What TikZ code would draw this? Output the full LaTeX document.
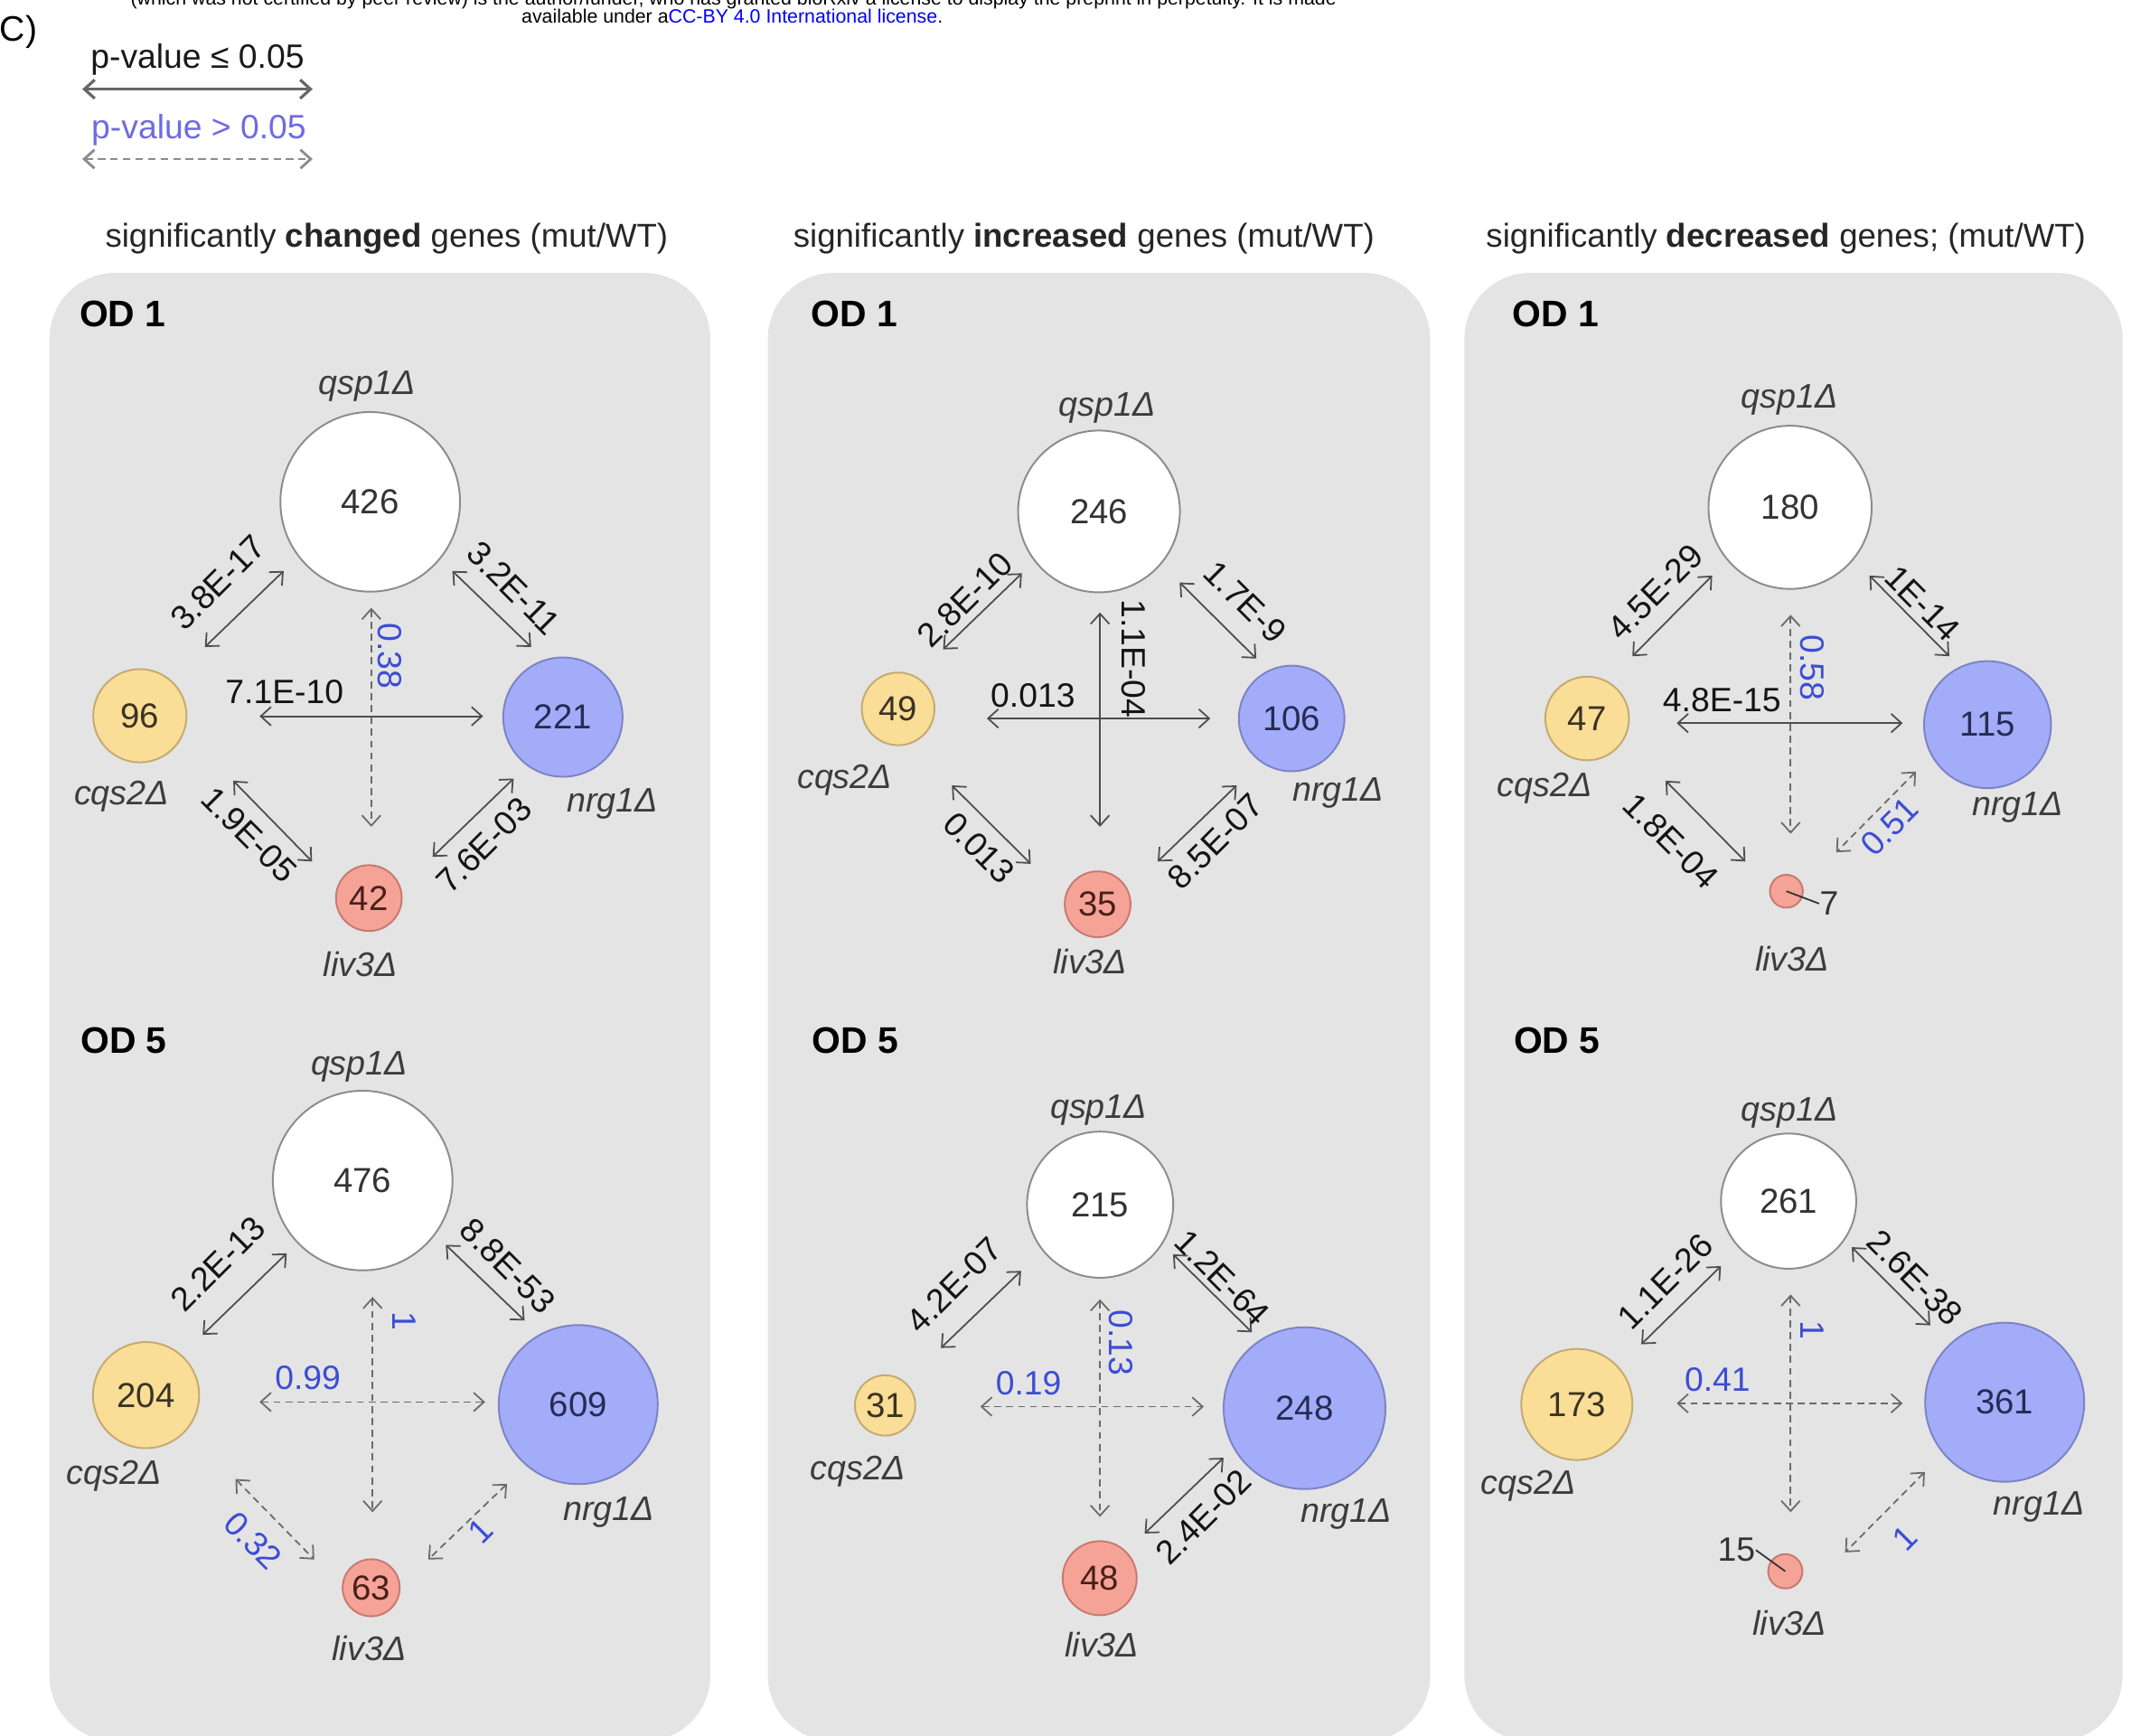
\documentclass[tikz,border=0pt]{standalone}
\usepackage{fontspec}
\setmainfont{Liberation Sans}
\usetikzlibrary{arrows.meta}
\definecolor{panelc}{HTML}{E4E4E4}
\definecolor{qspline}{HTML}{8C8C8C}
\definecolor{cqsfill}{HTML}{FADD97}
\definecolor{cqsline}{HTML}{C4AA70}
\definecolor{nrgfill}{HTML}{A3ACF8}
\definecolor{nrgline}{HTML}{7C83C6}
\definecolor{livfill}{HTML}{F6A397}
\definecolor{livline}{HTML}{C77A70}
\definecolor{arrc}{HTML}{4D4D4D}
\definecolor{dashc}{HTML}{6A6A6A}
\definecolor{bluelab}{HTML}{3C4DD4}
\definecolor{legblue}{HTML}{6F6BE0}
\definecolor{gtext}{HTML}{3C3C3C}
\definecolor{linkblue}{HTML}{0000FF}
\definecolor{numq}{HTML}{333333}
\definecolor{numc}{HTML}{3B3322}
\definecolor{numn}{HTML}{262B55}
\definecolor{numl}{HTML}{4A1F1A}
\newcommand\mytit{\fontsize{10.3}{12}\selectfont}
\newcommand\mynum{\fontsize{10.8}{12}\selectfont}
\newcommand\mylabf{\fontsize{10.5}{12}\selectfont}
\newcommand\mynamef{\fontsize{10.6}{12}\selectfont\itshape}
\newcommand\myodf{\fontsize{11.5}{13}\selectfont\bfseries}
\newcommand\myhdrf{\fontsize{6}{7}\selectfont}
\newcommand\myarr[4]{\coordinate (#2s) at (#3); \coordinate (#2e) at (#4); \draw[#1] (#2s) -- (#2e);}
\begin{document}
\begin{tikzpicture}[x=0.015cm,y=-0.015cm,
  >={Straight Barb[length=3.2pt,width=5.8pt]},
  sig/.style={<->, draw=arrc, line width=0.5pt},
  nsig/.style={<->, draw=dashc, line width=0.5pt, dash pattern=on 2.2pt off 1.5pt},
  numcirc/.style={circle, inner sep=0pt, line width=0.55pt, font=\mynum, minimum size=#1*0.03cm},
  qsp/.style={numcirc=#1, fill=white, draw=qspline, text=numq},
  cqs/.style={numcirc=#1, fill=cqsfill, draw=cqsline, text=numc},
  nrg/.style={numcirc=#1, fill=nrgfill, draw=nrgline, text=numn},
  liv/.style={numcirc=#1, fill=livfill, draw=livline, text=numl},
  lab/.style={font=\mylabf, text=black!92, inner sep=0pt},
  blab/.style={font=\mylabf, text=bluelab, inner sep=0pt},
  gname/.style={font=\mynamef, text=gtext, inner sep=0pt, yshift=-0.03cm},
  odl/.style={font=\myodf, text=black, inner sep=0pt},
  titl/.style={font=\mytit, text=black!85, inner sep=0pt, yshift=-0.045cm},
  panel/.style={fill=panelc, rounded corners=0.72cm},
  lead/.style={draw=black!80, line width=0.5pt}
]
\useasboundingbox (0,0) rectangle (1568,1266);

% header
\node[font=\myhdrf, inner sep=0pt, anchor=base] (hdr1) at (535,3.5) {(which was not certified by peer review) is the author/funder, who has granted bioRxiv a license to display the preprint in perpetuity. It is made};
\node[font=\myhdrf, inner sep=0pt, anchor=base] (hdr2) at (534,16.5) {available under a\textcolor{linkblue}{CC-BY 4.0 International license}.};
\node[font=\fontsize{11}{12}\selectfont, inner sep=0pt, anchor=west] (lblC) at (-0.5,23.5) {C)};

% legend
\node[font=\mylabf, text=black!90, inner sep=0pt] (leg1) at (144,43.5) {p-value ≤ 0.05};
\coordinate (leg1a) at (60,65); \coordinate (leg1b) at (228,65);
\draw[<->, draw=black!60, line width=0.9pt] (leg1a) -- (leg1b);
\node[font=\mylabf, text=legblue, inner sep=0pt] (leg2) at (145,95) {p-value > 0.05};
\coordinate (leg2a) at (60,116); \coordinate (leg2b) at (228,116);
\draw[<->, draw=black!45, line width=0.8pt, dash pattern=on 2.3pt off 1.6pt] (leg2a) -- (leg2b);

% titles
\node[titl] (tit1) at (282,171) {significantly \textbf{changed} genes (mut/WT)};
\node[titl] (tit2) at (790.5,171) {significantly \textbf{increased} genes (mut/WT)};
\node[titl] (tit3) at (1302.5,171) {significantly \textbf{decreased} genes; (mut/WT)};

% panels
\fill[panel] (36,199) rectangle (518,1270);
\fill[panel] (560,199) rectangle (1043,1270);
\fill[panel] (1068,199) rectangle (1548,1270);

% ===== Panel A: changed OD1
\node[odl] (Aod) at (89.5,229) {OD 1};
\node[qsp=65.5] (Aq) at (270,366) {426};
\node[cqs=34] (Ac) at (102,522) {96};
\node[nrg=43.5] (An) at (410.5,523) {221};
\node[liv=24] (Al) at (269,655) {42};
\node[gname] (Aqn) at (267.5,280) {qsp1Δ};
\node[gname] (Acn) at (88.7,579) {cqs2Δ};
\node[gname] (Ann) at (446.5,584) {nrg1Δ};
\node[gname] (Aln) at (262.7,701) {liv3Δ};
\myarr{sig}{Acq}{149.4,471.9}{206.9,416.4}
\myarr{sig}{Aqn}{329.9,416.4}{387.4,471.9}
\myarr{sig}{Acn}{189.3,522.4}{352.3,522.4}
\myarr{nsig}{Aql}{270.8,443.3}{270.8,603}
\myarr{sig}{Acl}{170.1,569.4}{227.6,628.3}
\myarr{sig}{Anl}{374.6,567.8}{315.5,624.9}
\node[lab, rotate=45] (AcqL) at (159,424.8) {3.8E-17};
\node[lab, rotate=-45] (AqnL) at (374.6,428.9) {3.2E-11};
\node[lab] (AcnL) at (207.5,504.5) {7.1E-10};
\node[blab, rotate=-90] (AqlL) at (284.2,478.6) {0.38};
\node[lab, rotate=-45] (AclL) at (182,608.8) {1.9E-05};
\node[lab, rotate=45] (AnlL) at (352.9,616.5) {7.6E-03};

% ===== Panel B: increased OD1
\node[odl] (Bod) at (623,229) {OD 1};
\node[qsp=59] (Bq) at (801.5,373) {246};
\node[cqs=26.5] (Bc) at (655,517) {49};
\node[nrg=38.5] (Bn) at (942,524) {106};
\node[liv=24] (Bl) at (800.5,659.5) {35};
\node[gname] (Bqn) at (807.6,295.5) {qsp1Δ};
\node[gname] (Bcn) at (616,567) {cqs2Δ};
\node[gname] (Bnn) at (976,576) {nrg1Δ};
\node[gname] (Bln) at (795,699) {liv3Δ};
\myarr{sig}{Bcq}{687.8,473.6}{745.3,418.1}
\myarr{sig}{Bqn}{860.3,424.8}{916.2,480.3}
\myarr{sig}{Bcn}{719.7,524}{882.7,524}
\myarr{sig}{Bql}{802.2,446.7}{802.2,603}
\myarr{sig}{Bcl}{694.2,572.8}{751.7,630}
\myarr{sig}{Bnl}{901.9,572.8}{844.3,628.3}
\node[lab, rotate=45] (BcqL) at (703.8,437.3) {2.8E-10};
\node[lab, rotate=-45] (BqnL) at (908.2,439) {1.7E-9};
\node[lab] (BcnL) at (753.3,507.2) {0.013};
\node[lab, rotate=-90] (BqlL) at (826.8,480.3) {1.1E-04};
\node[lab, rotate=-45] (BclL) at (714,618.2) {0.013};
\node[lab, rotate=45] (BnlL) at (886.5,613.8) {8.5E-07};

% ===== Panel C: decreased OD1
\node[odl] (Cod) at (1134.7,229) {OD 1};
\node[qsp=59.5] (Cq) at (1305.5,370) {180};
\node[cqs=30.5] (Cc) at (1157.5,524) {47};
\node[nrg=46.3] (Cn) at (1449.5,528.5) {115};
\node[liv=12] (Cl) at (1302.8,650) {};
\node[gname] (Cqn) at (1305,289.5) {qsp1Δ};
\node[gname] (Ccn) at (1126.6,573) {cqs2Δ};
\node[gname] (Cnn) at (1471.6,587) {nrg1Δ};
\node[gname] (Cln) at (1307,697) {liv3Δ};
\node[lab, text=black!80] (Cseven) at (1334,659) {7};
\draw[lead] (Cl.center) -- (Cseven.west);
\myarr{sig}{Ccq}{1190.5,478.6}{1248.7,419.8}
\myarr{sig}{Cqn}{1363.4,419.8}{1421.6,478.6}
\myarr{sig}{Ccn}{1222.8,527.4}{1387.6,527.4}
\myarr{nsig}{Cql}{1305.9,448.4}{1305.9,608.1}
\myarr{sig}{Ccl}{1214.7,569.4}{1272.9,628.3}
\myarr{nsig}{Cnl}{1397.3,562.7}{1339.1,621.6}
\node[lab, rotate=45] (CcqL) at (1207.3,431.6) {4.5E-29};
\node[lab, rotate=-45] (CqnL) at (1402.2,440) {1E-14};
\node[lab] (CcnL) at (1255.8,510.6) {4.8E-15};
\node[blab, rotate=-90] (CqlL) at (1321.7,487) {0.58};
\node[lab, rotate=-45] (CclL) at (1218.6,613.2) {1.8E-04};
\node[blab, rotate=45] (CnlL) at (1377.9,603) {0.51};

% ===== Panel D: changed OD5
\node[odl] (Dod) at (90.3,758.6) {OD 5};
\node[qsp=65.5] (Dq) at (264.5,861) {476};
\node[cqs=38.7] (Dc) at (106.5,1017.5) {204};
\node[nrg=58] (Dn) at (421.7,1024.4) {609};
\node[liv=20.8] (Dl) at (270.7,1158) {63};
\node[gname] (Dqn) at (262,776) {qsp1Δ};
\node[gname] (Dcn) at (83,1074.4) {cqs2Δ};
\node[gname] (Dnn) at (444,1101) {nrg1Δ};
\node[gname] (Dln) at (269.2,1200) {liv3Δ};
\myarr{sig}{Dcq}{147.8,973.5}{209.1,914.1}
\myarr{sig}{Dqn}{325.1,907.9}{382.6,963.1}
\myarr{nsig}{Dcn}{189.3,1022.5}{353.8,1022.5}
\myarr{nsig}{Dql}{271.7,945.9}{271.7,1102.9}
\myarr{nsig}{Dcl}{171.7,1078.7}{229.2,1137.4}
\myarr{nsig}{Dnl}{369.8,1082.2}{312.3,1137.4}
\node[lab, rotate=45] (DcqL) at (159,921.7) {2.2E-13};
\node[lab, rotate=-45] (DqnL) at (370.5,923.4) {8.8E-53};
\node[blab] (DcnL) at (224.5,1005.2) {0.99};
\node[blab, rotate=-90] (DqlL) at (294.7,963.8) {1};
\node[blab, rotate=-45] (DclL) at (184.5,1123.6) {0.32};
\node[blab, rotate=45] (DnlL) at (350.6,1116.7) {1};

% ===== Panel E: increased OD5
\node[odl] (Eod) at (623.9,758.6) {OD 5};
\node[qsp=53.3] (Eq) at (802.3,878.6) {215};
\node[cqs=22] (Ec) at (645.5,1025) {31};
\node[nrg=59] (En) at (951.4,1027) {248};
\node[liv=27] (El) at (802,1151) {48};
\node[gname] (Eqn) at (801.2,807.8) {qsp1Δ};
\node[gname] (Ecn) at (625.5,1071) {cqs2Δ};
\node[gname] (Enn) at (981.8,1102) {nrg1Δ};
\node[gname] (Eln) at (803.6,1197.8) {liv3Δ};
\myarr{sig}{Ecq}{686.2,983.1}{744.7,926.9}
\myarr{sig}{Eqn}{855.5,914.8}{913,971.7}
\myarr{nsig}{Ecn}{715,1025.9}{877.9,1025.9}
\myarr{nsig}{Eql}{802.2,947.6}{802.2,1106.3}
\myarr{sig}{Enl}{892.3,1063.2}{834.8,1118.4}
\node[lab, rotate=45] (EcqL) at (695.8,937.2) {4.2E-07};
\node[lab, rotate=-45] (EqnL) at (891.3,932) {1.2E-64};
\node[blab] (EcnL) at (750.1,1008.7) {0.19};
\node[blab, rotate=-90] (EqlL) at (817.2,979.3) {0.13};
\node[lab, rotate=45] (EnlL) at (877.9,1106.3) {2.4E-02};

% ===== Panel F: decreased OD5
\node[odl] (Fod) at (1135.5,758.6) {OD 5};
\node[qsp=49.3] (Fq) at (1304.4,876) {261};
\node[cqs=40.5] (Fc) at (1150,1024.3) {173};
\node[nrg=58] (Fn) at (1462,1022.7) {361};
\node[liv=12.5] (Fl) at (1302,1146) {};
\node[gname] (Fqn) at (1305.2,809.6) {qsp1Δ};
\node[gname] (Fcn) at (1114.5,1082) {cqs2Δ};
\node[gname] (Fnn) at (1487,1097) {nrg1Δ};
\node[gname] (Fln) at (1305.2,1182) {liv3Δ};
\node[lab, text=black!80] (Ffifteen) at (1266.4,1130.5) {15};
\draw[lead] (Fl.center) -- (Ffifteen.east);
\myarr{sig}{Fcq}{1197,980.4}{1255.1,923.4}
\myarr{sig}{Fqn}{1350.5,909.6}{1407.7,966.6}
\myarr{nsig}{Fcn}{1222.8,1023.5}{1387.6,1023.5}
\myarr{nsig}{Fql}{1305.9,944.1}{1305.9,1102.9}
\myarr{nsig}{Fnl}{1403.8,1073.5}{1345.6,1132.2}
\node[lab, rotate=45] (FcqL) at (1214.7,934.5) {1.1E-26};
\node[lab, rotate=-45] (FqnL) at (1396.4,932) {2.6E-38};
\node[blab] (FcnL) at (1252.5,1006.3) {0.41};
\node[blab, rotate=-90] (FqlL) at (1321.4,970) {1};
\node[blab, rotate=45] (FnlL) at (1389.3,1121.9) {1};
\end{tikzpicture}
\end{document}
